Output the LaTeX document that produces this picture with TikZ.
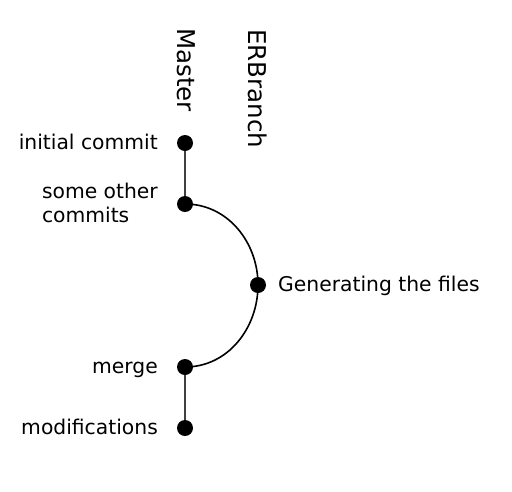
\documentclass[tikz,border=0pt]{standalone}
\usepackage{fontspec}
\setmainfont{DejaVu Sans}
\begin{document}
\begin{tikzpicture}[x=1pt,y=-1pt,
  commit/.style={circle,fill=black,inner sep=0pt,minimum size=16pt},
  lbl/.style={inner sep=0pt,font=\fontsize{20.3}{24}\selectfont},
  head/.style={inner sep=0pt,font=\fontsize{24.5}{28}\selectfont,rotate=-90,anchor=south west},
  trunk/.style={draw=black!75,line width=2pt},
  branchline/.style={draw=black,line width=1.6pt}]
\useasboundingbox (0,0) rectangle (512,491);
\node[head] (master) at (177,28) {Master};
\node[head] (erb) at (248,29) {ERBranch};
\node[commit] (c1) at (185,143) {};
\node[commit] (c2) at (185,204) {};
\node[commit] (c3) at (258,285) {};
\node[commit] (c4) at (185,367) {};
\node[commit] (c5) at (185,428) {};
\draw[trunk] (c1) -- (c2);
\draw[trunk] (c4) -- (c5);
\draw[branchline] (c2.center) to[out=0,in=90,looseness=1] (c3.center);
\draw[branchline] (c3.center) to[out=-90,in=0,looseness=1] (c4.center);
\node[lbl,anchor=base east] (l1) at (158,149.5) {initial commit};
\node[lbl,anchor=east,align=left] (l2) at (158,203) {some other\\commits};
\node[lbl,anchor=base west] (l3) at (278,291) {Generating the files};
\node[lbl,anchor=base east] (l4) at (158,373.5) {merge};
\node[lbl,anchor=base east] (l5) at (158,434) {modifications};
\end{tikzpicture}
\end{document}
